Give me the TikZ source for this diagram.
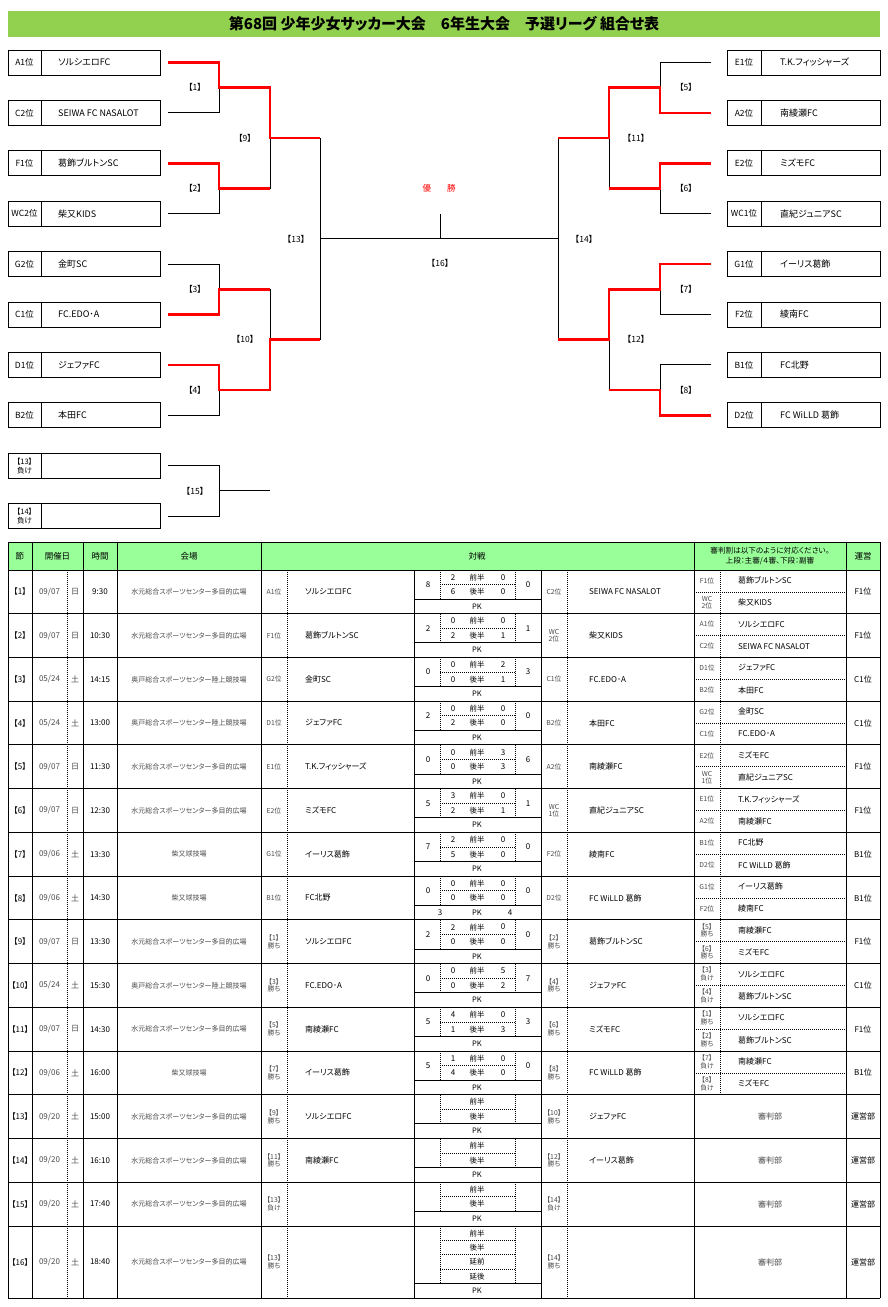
\documentclass[tikz,border=0pt]{standalone}
\usepackage{fontspec}
\setmainfont{Noto Sans CJK JP}[RawFeature=+palt]
\definecolor{titlegreen}{HTML}{92D050}
\definecolor{headgreen}{HTML}{99FF99}
\definecolor{winred}{HTML}{FF0000}
\definecolor{txtgray}{HTML}{4A4A4A}
\newcommand{\MatchA}[9]{%
  \pgfmathsetmacro{\RowTop}{570+43.73*#1}%
  \pgfmathsetmacro{\RowMid}{\RowTop+(#1==15 ? 36.0 : 21.87)}%
  \node[tb] (num#1) at (20,\RowMid) {#2};
  \node[tb,text=txtgray] (dat#1) at (49.5,\RowMid) {#3};
  \node[tb,text=txtgray] (day#1) at (75,\RowMid) {#4};
  \node[tb] (tim#1) at (100,\RowMid) {#5};
  \node[ven] (ven#1) at (189,\RowMid) {#6};
  \node[posl] (lp#1) at (274,\RowMid) {#7};
  \node[tb,anchor=west] (lt#1) at (305,\RowMid) {#8};
  \node[tb] (un#1) at (863,\RowMid) {#9};
}
\newcommand{\MatchB}[9]{%
  \pgfmathsetmacro{\RowTop}{570+43.73*#1}%
  \node[tb] (lsc#1) at (428,\RowTop+14.58) {#2};
  \node[tb] (a1#1) at (453,\RowTop+7.29) {#3};
  \node[hs] (h1#1) at (477,\RowTop+7.29) {前半};
  \node[tb] (b1#1) at (503,\RowTop+7.29) {#4};
  \node[tb] (a2#1) at (453,\RowTop+21.87) {#5};
  \node[hs] (h2#1) at (477,\RowTop+21.87) {後半};
  \node[tb] (b2#1) at (503,\RowTop+21.87) {#6};
  \node[tb] (rsc#1) at (528,\RowTop+14.58) {#7};
  \node[hs] (pk#1) at (477,\RowTop+36.45) {PK};
  \node[tb] (pa#1) at (440,\RowTop+36.45) {#8};
  \node[tb] (pb#1) at (510,\RowTop+36.45) {#9};
}
\newcommand{\MatchC}[7]{%
  \pgfmathsetmacro{\RowTop}{570+43.73*#1}%
  \node[posl] (rp#1) at (554,\RowTop+21.87) {#2};
  \node[tb,anchor=west] (rt#1) at (589,\RowTop+21.87) {#3};
  \node[posl] (fp#1) at (707,\RowTop+10.6) {#4};
  \node[tb,anchor=west] (fn#1) at (738,\RowTop+10.6) {#5};
  \node[posl] (gp#1) at (707,\RowTop+32.6) {#6};
  \node[tb,anchor=west] (gn#1) at (738,\RowTop+32.6) {#7};
}
\newcommand{\MatchD}[3]{%
  \pgfmathsetmacro{\RowTop}{570+43.73*#1}%
  \pgfmathsetmacro{\RowMid}{\RowTop+(#1==15 ? 36.0 : 21.87)}%
  \node[posl] (rp#1) at (554,\RowMid) {#2};
  \node[tb,anchor=west] (rt#1) at (589,\RowMid) {#3};
  \node[tb,text=txtgray] (ref#1) at (770,\RowMid) {審判部};
}
\begin{document}
\begin{tikzpicture}[x=1pt,y=-1pt,
  ln/.style={line width=0.9pt,black},
  rd/.style={line width=2.6pt,winred},
  dt/.style={line width=0.7pt,dash pattern=on 1pt off 1pt},
  bx/.style={line width=1pt,black},
  blab/.style={font=\fontsize{9}{10}\selectfont,inner sep=0pt},
  bpos/.style={font=\fontsize{8.5}{9}\selectfont,inner sep=0pt},
  blos/.style={font=\fontsize{7.5}{9}\selectfont,inner sep=0pt,align=center},
  mlab/.style={font=\fontsize{8.5}{9}\selectfont,inner sep=0pt},
  tb/.style={font=\fontsize{8}{9}\selectfont,inner sep=0pt},
  hs/.style={font=\fontsize{7.5}{8}\selectfont,inner sep=0pt},
  ven/.style={font=\fontsize{7}{8}\selectfont,inner sep=0pt,text=txtgray},
  posl/.style={font=\fontsize{6.8}{7.6}\selectfont,inner sep=0pt,align=center,text=txtgray},
  hd/.style={font=\fontsize{8.5}{9}\selectfont,inner sep=0pt},
]
\useasboundingbox (0,0) rectangle (887,1307);
\fill[white] (0,0) rectangle (887,1307);
% ---------- title ----------
\fill[titlegreen] (8,11) rectangle (880,37);
\node[font=\fontsize{15}{17}\selectfont\bfseries,inner sep=0pt] (title) at (444,23.5) {第68回 少年少女サッカー大会\quad 6年生大会\quad 予選リーグ 組合せ表};
% ---------- left boxes ----------
\foreach \k/\p/\n in {0/A1位/ソルシエロFC,1/C2位/SEIWA FC NASALOT,2/F1位/葛飾ブルトンSC,3/WC2位/柴又KIDS,4/G2位/金町SC,5/C1位/FC.EDO･A,6/D1位/ジェファFC,7/B2位/本田FC}{
  \pgfmathsetmacro{\BoxY}{62.5+50.4*\k}
  \draw[bx] (8,\BoxY-12.5) rectangle (160,\BoxY+12.5) (41,\BoxY-12.5) -- (41,\BoxY+12.5);
  \node[bpos] (lpos\k) at (24.5,\BoxY) {\p};
  \node[blab,anchor=west] (lteam\k) at (58,\BoxY) {\n};
}
\draw[bx] (8,453.2) rectangle (160,478.2) (41,453.2) -- (41,478.2);
\node[blos] (lpos8) at (24.5,465.7) {【13】\\負け};
\draw[bx] (8,503.6) rectangle (160,528.6) (41,503.6) -- (41,528.6);
\node[blos] (lpos9) at (24.5,516.1) {【14】\\負け};
% ---------- right boxes ----------
\foreach \k/\p/\n in {0/E1位/T.K.フィッシャーズ,1/A2位/南綾瀬FC,2/E2位/ミズモFC,3/WC1位/直紀ジュニアSC,4/G1位/イーリス葛飾,5/F2位/綾南FC,6/B1位/FC北野,7/D2位/FC WiLLD 葛飾}{
  \pgfmathsetmacro{\BoxY}{62.5+50.4*\k}
  \draw[bx] (727,\BoxY-12.5) rectangle (880,\BoxY+12.5) (761,\BoxY-12.5) -- (761,\BoxY+12.5);
  \node[bpos] (rpos\k) at (744,\BoxY) {\p};
  \node[blab,anchor=west] (rteam\k) at (780,\BoxY) {\n};
}
% ---------- bracket: black ----------
\draw[ln] (168,112.9) -| (219,87.7);
\draw[ln] (168,213.7) -| (219,188.5);
\draw[ln] (270,188.5) -- (270,138.1);
\draw[ln] (168,264.1) -| (219,289.3);
\draw[ln] (168,415.3) -| (219,390.1);
\draw[ln] (270,289.3) -- (270,339.7);
\draw[ln] (320,138.1) -- (320,339.7);
\draw[ln] (320,238.9) -- (558,238.9);
\draw[ln] (440,214) -- (440,238.9);
\draw[ln] (168,465.7) -| (219,516.1) -- (168,516.1);
\draw[ln] (219,490.9) -- (270,490.9);
\draw[ln] (711,62.5) -| (660,87.7);
\draw[ln] (711,213.7) -| (660,188.5);
\draw[ln] (609,138.1) -- (609,188.5);
\draw[ln] (711,314.5) -| (660,289.3);
\draw[ln] (711,364.9) -| (660,390.1);
\draw[ln] (609,339.7) -- (609,390.1);
\draw[ln] (558,138.1) -- (558,339.7);
% ---------- bracket: red ----------
\draw[rd] (168,62.5) -| (219,87.7) -- (270,87.7) |- (320,138.1);
\draw[rd] (168,163.3) -| (219,188.5) -- (270,188.5);
\draw[rd] (168,314.5) -| (219,289.3) -- (270,289.3);
\draw[rd] (168,364.9) -| (219,390.1) -- (270,390.1) |- (320,339.7);
\draw[rd] (711,112.9) -| (660,87.7) -- (609,87.7) |- (558,138.1);
\draw[rd] (711,163.3) -| (660,188.5) -- (609,188.5);
\draw[rd] (711,264.1) -| (660,289.3) -- (609,289.3) |- (558,339.7);
\draw[rd] (711,415.3) -| (660,390.1) -- (609,390.1);
% ---------- bracket labels ----------
\node[mlab] (g1) at (195,87.7) {【1】};
\node[mlab] (g2) at (195,188.5) {【2】};
\node[mlab] (g3) at (195,289.3) {【3】};
\node[mlab] (g4) at (195,390.1) {【4】};
\node[mlab] (g9) at (245,138.1) {【9】};
\node[mlab] (g10) at (245,339.7) {【10】};
\node[mlab] (g13) at (296,238.9) {【13】};
\node[mlab] (g15) at (195,490.9) {【15】};
\node[mlab] (g5) at (686,87.7) {【5】};
\node[mlab] (g6) at (686,188.5) {【6】};
\node[mlab] (g7) at (686,289.3) {【7】};
\node[mlab] (g8) at (686,390.1) {【8】};
\node[mlab] (g11) at (636,138.1) {【11】};
\node[mlab] (g12) at (636,339.7) {【12】};
\node[mlab] (g14) at (584,238.9) {【14】};
\node[mlab] (g16) at (440,263.5) {【16】};
\node[mlab,text=winred] (champ) at (439,188) {優\hspace{16pt}勝};
% ---------- table grid ----------
\fill[headgreen] (8,542) rectangle (880,570);
\draw[ln] (8,542) -- (880,542);
\foreach \i in {0,...,15}{\draw[ln] (8,570+43.73*\i) -- (880,570+43.73*\i);}
\draw[ln] (8,1298) -- (880,1298);
\foreach \x in {8,32,83,117,261,694,846,880}{\draw[ln] (\x,542) -- (\x,1298);}
\foreach \x in {414,541}{\draw[ln] (\x,570) -- (\x,1298);}
\foreach \x in {67,287,567}{\draw[dt] (\x,570) -- (\x,1298);}
\draw[dt] (720,570) -- (720,1094.76);
\foreach \i in {0,...,14}{
  \pgfmathsetmacro{\RowTop}{570+43.73*\i}
  \draw[dt] (440,\RowTop) -- (440,\RowTop+29.16) (515,\RowTop) -- (515,\RowTop+29.16) (440,\RowTop+14.58) -- (515,\RowTop+14.58);
  \draw[ln] (414,\RowTop+29.16) -- (541,\RowTop+29.16);
}
\foreach \i in {0,...,11}{
  \pgfmathsetmacro{\RowTop}{570+43.73*\i}
  \draw[dt] (694,\RowTop+21.87) -- (846,\RowTop+21.87);
}
\draw[dt] (440,1225.95) -- (440,1283.6) (515,1225.95) -- (515,1283.6);
\draw[dt] (440,1240.36) -- (515,1240.36) (440,1254.77) -- (515,1254.77) (440,1269.18) -- (515,1269.18);
\draw[ln] (414,1283.6) -- (541,1283.6);
% ---------- header ----------
\node[hd] (hsetsu) at (20,556) {節};
\node[hd] (hdate) at (57.5,556) {開催日};
\node[hd] (htime) at (100,556) {時間};
\node[hd] (hvenue) at (189,556) {会場};
\node[hd] (hvs) at (477,556) {対戦};
\node[font=\fontsize{7.6}{9.5}\selectfont,inner sep=0pt,align=center] (href) at (770,556) {審判割は以下のように対応ください。\\上段：主審/４審、下段：副審};
\node[hd] (hunei) at (863,556) {運営};
% ---------- rows ----------
\MatchA{0}{【1】}{09/07}{日}{9:30}{水元総合スポーツセンター多目的広場}{A1位}{ソルシエロFC}{F1位}
\MatchB{0}{8}{2}{0}{6}{0}{0}{}{}
\MatchC{0}{C2位}{SEIWA FC NASALOT}{F1位}{葛飾ブルトンSC}{WC\\2位}{柴又KIDS}
\MatchA{1}{【2】}{09/07}{日}{10:30}{水元総合スポーツセンター多目的広場}{F1位}{葛飾ブルトンSC}{F1位}
\MatchB{1}{2}{0}{0}{2}{1}{1}{}{}
\MatchC{1}{WC\\2位}{柴又KIDS}{A1位}{ソルシエロFC}{C2位}{SEIWA FC NASALOT}
\MatchA{2}{【3】}{05/24}{土}{14:15}{奥戸総合スポーツセンター陸上競技場}{G2位}{金町SC}{C1位}
\MatchB{2}{0}{0}{2}{0}{1}{3}{}{}
\MatchC{2}{C1位}{FC.EDO･A}{D1位}{ジェファFC}{B2位}{本田FC}
\MatchA{3}{【4】}{05/24}{土}{13:00}{奥戸総合スポーツセンター陸上競技場}{D1位}{ジェファFC}{C1位}
\MatchB{3}{2}{0}{0}{2}{0}{0}{}{}
\MatchC{3}{B2位}{本田FC}{G2位}{金町SC}{C1位}{FC.EDO･A}
\MatchA{4}{【5】}{09/07}{日}{11:30}{水元総合スポーツセンター多目的広場}{E1位}{T.K.フィッシャーズ}{F1位}
\MatchB{4}{0}{0}{3}{0}{3}{6}{}{}
\MatchC{4}{A2位}{南綾瀬FC}{E2位}{ミズモFC}{WC\\1位}{直紀ジュニアSC}
\MatchA{5}{【6】}{09/07}{日}{12:30}{水元総合スポーツセンター多目的広場}{E2位}{ミズモFC}{F1位}
\MatchB{5}{5}{3}{0}{2}{1}{1}{}{}
\MatchC{5}{WC\\1位}{直紀ジュニアSC}{E1位}{T.K.フィッシャーズ}{A2位}{南綾瀬FC}
\MatchA{6}{【7】}{09/06}{土}{13:30}{柴又球技場}{G1位}{イーリス葛飾}{B1位}
\MatchB{6}{7}{2}{0}{5}{0}{0}{}{}
\MatchC{6}{F2位}{綾南FC}{B1位}{FC北野}{D2位}{FC WiLLD 葛飾}
\MatchA{7}{【8】}{09/06}{土}{14:30}{柴又球技場}{B1位}{FC北野}{B1位}
\MatchB{7}{0}{0}{0}{0}{0}{0}{3}{4}
\MatchC{7}{D2位}{FC WiLLD 葛飾}{G1位}{イーリス葛飾}{F2位}{綾南FC}
\MatchA{8}{【9】}{09/07}{日}{13:30}{水元総合スポーツセンター多目的広場}{【1】\\勝ち}{ソルシエロFC}{F1位}
\MatchB{8}{2}{2}{0}{0}{0}{0}{}{}
\MatchC{8}{【2】\\勝ち}{葛飾ブルトンSC}{【5】\\勝ち}{南綾瀬FC}{【6】\\勝ち}{ミズモFC}
\MatchA{9}{【10】}{05/24}{土}{15:30}{奥戸総合スポーツセンター陸上競技場}{【3】\\勝ち}{FC.EDO･A}{C1位}
\MatchB{9}{0}{0}{5}{0}{2}{7}{}{}
\MatchC{9}{【4】\\勝ち}{ジェファFC}{【3】\\負け}{ソルシエロFC}{【4】\\負け}{葛飾ブルトンSC}
\MatchA{10}{【11】}{09/07}{日}{14:30}{水元総合スポーツセンター多目的広場}{【5】\\勝ち}{南綾瀬FC}{F1位}
\MatchB{10}{5}{4}{0}{1}{3}{3}{}{}
\MatchC{10}{【6】\\勝ち}{ミズモFC}{【1】\\勝ち}{ソルシエロFC}{【2】\\勝ち}{葛飾ブルトンSC}
\MatchA{11}{【12】}{09/06}{土}{16:00}{柴又球技場}{【7】\\勝ち}{イーリス葛飾}{B1位}
\MatchB{11}{5}{1}{0}{4}{0}{0}{}{}
\MatchC{11}{【8】\\勝ち}{FC WiLLD 葛飾}{【7】\\負け}{南綾瀬FC}{【8】\\負け}{ミズモFC}
\MatchA{12}{【13】}{09/20}{土}{15:00}{水元総合スポーツセンター多目的広場}{【9】\\勝ち}{ソルシエロFC}{運営部}
\MatchB{12}{}{}{}{}{}{}{}{}
\MatchD{12}{【10】\\勝ち}{ジェファFC}
\MatchA{13}{【14】}{09/20}{土}{16:10}{水元総合スポーツセンター多目的広場}{【11】\\勝ち}{南綾瀬FC}{運営部}
\MatchB{13}{}{}{}{}{}{}{}{}
\MatchD{13}{【12】\\勝ち}{イーリス葛飾}
\MatchA{14}{【15】}{09/20}{土}{17:40}{水元総合スポーツセンター多目的広場}{【13】\\負け}{}{運営部}
\MatchB{14}{}{}{}{}{}{}{}{}
\MatchD{14}{【14】\\負け}{}
\MatchA{15}{【16】}{09/20}{土}{18:40}{水元総合スポーツセンター多目的広場}{【13】\\勝ち}{}{運営部}
\MatchD{15}{【14】\\勝ち}{}
\node[hs] (f1) at (477,1233.15) {前半};
\node[hs] (f2) at (477,1247.56) {後半};
\node[hs] (f3) at (477,1261.97) {延前};
\node[hs] (f4) at (477,1276.38) {延後};
\node[hs] (f5) at (477,1290.8) {PK};
\end{tikzpicture}
\end{document}
